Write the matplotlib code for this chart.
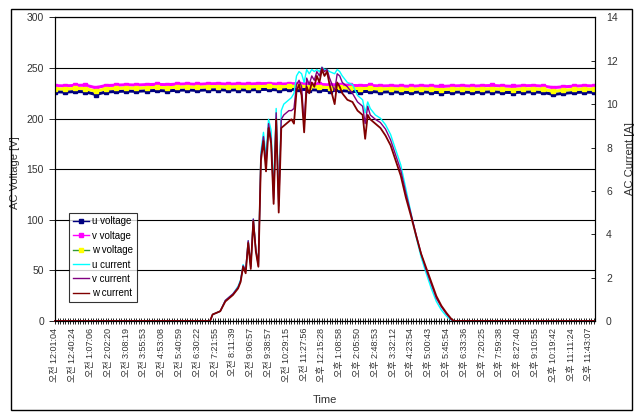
import matplotlib
matplotlib.use('Agg')
import matplotlib.pyplot as plt
from matplotlib.lines import Line2D
from matplotlib.patches import Rectangle
from matplotlib.ticker import MultipleLocator

plt.rcParams['font.family'] = ['Liberation Sans', 'Noto Sans CJK KR']

# 샘플 번호 (레이블은 7 샘플마다)
n_last = 212.4
time_labels = [
    '오전 12:01:04', '오전 12:40:24', '오전 1:07:06', '오전 2:02:20', '오전 3:08:19',
    '오전 3:55:53', '오전 4:53:08', '오전 5:40:59', '오전 6:30:22', '오전 7:21:55',
    '오전 8:11:39', '오전 9:06:57', '오전 9:38:57', '오전 10:29:15', '오전 11:27:56',
    '오후 12:15:28', '오후 1:08:58', '오후 2:05:50', '오후 2:48:53', '오후 3:32:12',
    '오후 4:23:54', '오후 5:00:43', '오후 5:45:54', '오후 6:33:36', '오후 7:20:25',
    '오후 7:59:38', '오후 8:27:40', '오후 9:10:55', '오후 10:19:42', '오후 11:11:24',
    '오후 11:43:07',
]
label_idx = [7 * k for k in range(len(time_labels))]

# 전압 (V)
volt_idx = list(range(0, 213, 4))
u_volt = [226.5, 226.2, 226.8, 226.5, 223.8, 226.3, 226.8, 227.2, 227.0, 227.5,
          227.8, 227.4, 228.0, 228.3, 227.9, 228.4, 228.6, 228.1, 228.5, 228.2,
          228.7, 228.9, 228.3, 228.8, 229.0, 228.6, 228.2, 227.6, 227.9, 227.0,
          226.6, 226.9, 226.2, 226.5, 226.1, 225.8, 226.4, 226.0, 225.6, 226.1,
          226.3, 225.9, 226.2, 226.5, 226.0, 225.7, 226.2, 226.4, 225.9, 223.9,
          225.0, 225.8, 226.2, 226.0]
v_volt = [232.5, 232.3, 232.8, 233.0, 230.5, 232.6, 233.0, 233.4, 233.1, 233.6,
          233.8, 233.5, 234.0, 234.2, 233.8, 234.3, 234.5, 234.0, 234.3, 234.1,
          234.5, 234.6, 234.0, 234.4, 234.6, 234.2, 233.8, 233.3, 233.5, 232.8,
          232.5, 232.7, 232.2, 232.4, 232.1, 231.9, 232.4, 232.1, 231.8, 232.2,
          232.5, 232.1, 232.4, 232.7, 232.2, 231.9, 232.4, 232.6, 232.1, 230.6,
          231.4, 232.0, 232.5, 232.3]
w_volt = [229.5, 229.2, 229.8, 229.6, 227.0, 229.4, 229.8, 230.2, 230.0, 230.5,
          230.8, 230.4, 231.0, 231.3, 230.9, 231.4, 231.6, 231.1, 231.5, 231.2,
          231.7, 231.9, 231.3, 231.8, 232.0, 231.6, 231.2, 230.6, 230.9, 230.0,
          229.6, 229.9, 229.2, 229.5, 229.1, 228.8, 229.4, 229.0, 228.6, 229.1,
          229.3, 228.9, 229.2, 229.5, 229.0, 228.7, 229.2, 229.4, 228.9, 227.0,
          228.0, 228.8, 229.2, 229.0]

# 전류 (A)
cur_idx = [0, 61, 62, 65, 67, 70, 72, 73,
           74, 75, 76, 77, 78, 79, 80, 81, 82, 83, 84, 85, 86, 87, 88, 89, 90,
           91, 92, 93, 94, 95, 96, 97, 98, 99, 100, 101, 102, 103, 104, 105, 106,
           107, 108, 110, 111, 112, 113, 115, 117, 119, 121, 122, 123, 124,
           126, 128, 130, 132, 134, 136, 138, 140, 142, 144, 146, 148, 150, 152,
           154, 156, 157, 212]
u_cur = [0, 0, 0.3, 0.45, 0.95, 1.25, 1.6, 1.9,
         2.6, 2.3, 3.7, 2.5, 4.7, 3.3, 2.6, 7.8, 8.7, 7.6, 9.3, 8.8, 6.0, 9.8, 5.6, 9.7, 10.0,
         10.1, 10.2, 10.3, 10.5, 11.3, 11.5, 11.4, 11.0, 11.6, 11.4, 11.6, 11.5, 11.6, 11.5, 11.7, 11.6,
         11.6, 11.5, 11.4, 11.6, 11.5, 11.3, 11.0, 10.9, 10.4, 10.2, 9.6, 10.1, 9.8,
         9.5, 9.35, 9.05, 8.6, 7.9, 7.2, 6.1, 5.0, 3.9, 2.95, 2.2, 1.5, 0.9, 0.5,
         0.22, 0.03, 0, 0]
v_cur = [0, 0, 0.3, 0.45, 0.95, 1.25, 1.55, 1.85,
         2.55, 2.3, 3.7, 2.5, 4.7, 3.3, 2.55, 7.6, 8.5, 7.2, 9.1, 8.4, 5.6, 9.6, 5.3, 9.3, 9.5,
         9.6, 9.7, 9.7, 9.8, 10.9, 11.1, 10.8, 9.0, 11.2, 10.9, 11.3, 11.1, 11.5, 11.3, 11.7, 11.5,
         11.6, 11.2, 10.6, 11.4, 11.3, 11.0, 10.8, 10.5, 10.1, 9.9, 9.1, 9.9, 9.5,
         9.3, 9.15, 8.85, 8.35, 7.65, 6.95, 5.9, 4.95, 4.0, 3.1, 2.35, 1.7, 1.05, 0.65,
         0.32, 0.05, 0, 0]
w_cur = [0, 0, 0.3, 0.45, 0.9, 1.2, 1.5, 1.8,
         2.5, 2.2, 3.6, 2.4, 4.6, 3.2, 2.5, 7.4, 8.3, 6.9, 8.9, 8.2, 5.4, 9.3, 5.0, 8.9, 9.0,
         9.1, 9.2, 9.3, 9.1, 10.6, 10.9, 10.4, 8.7, 10.8, 10.5, 11.0, 10.8, 11.3, 11.0, 11.6, 11.3,
         11.5, 10.9, 10.0, 11.0, 10.8, 10.5, 10.2, 10.1, 9.7, 9.5, 8.4, 9.5, 9.3,
         9.1, 8.9, 8.55, 8.1, 7.4, 6.7, 5.7, 4.85, 3.95, 3.1, 2.45, 1.8, 1.15, 0.7,
         0.37, 0.08, 0, 0]

fig = plt.figure(figsize=(6.35, 4.12), dpi=100)
ax1 = fig.add_axes([0.0866, 0.2209, 0.8504, 0.7369])
ax2 = ax1.twinx()

# 전압: 왼쪽 축
ax1.plot(volt_idx, u_volt, color='#000080', lw=2.2, marker='s', ms=2.2)
ax1.plot(volt_idx, v_volt, color='#FF00FF', lw=2.2, marker='s', ms=2.2)
ax1.plot(volt_idx, w_volt, color='#FFFF00', lw=2.2, marker='s', ms=2.2)

# 전류: 오른쪽 축
ax2.plot(cur_idx, u_cur, color='#00FFFF', lw=1.0, clip_on=False)
ax2.plot(cur_idx, v_cur, color='#800080', lw=1.0, clip_on=False)
ax2.plot(cur_idx, w_cur, color='#800000', lw=1.3, clip_on=False)

ax1.set_xlim(0, n_last)
ax1.set_ylim(0, 300)
ax2.set_ylim(0, 14)
ax1.set_yticks(range(0, 301, 50))
ax2.set_yticks(range(0, 15, 2))
ax1.yaxis.grid(True, color='black', lw=0.8)
ax1.set_axisbelow(True)

ax1.set_xticks(label_idx)
ax1.set_xticklabels(time_labels, rotation=90, fontsize=6.5, va='top', ha='center',
                    color='#333333')
ax1.xaxis.set_minor_locator(MultipleLocator(1))
ax1.tick_params(axis='x', which='both', direction='inout', length=4, width=0.6, pad=3)
ax1.tick_params(axis='y', direction='out', length=4, width=0.6, labelsize=7.5, pad=4,
                labelcolor='#333333')
ax2.tick_params(axis='y', direction='in', length=3, width=0.6, labelsize=7.5, pad=8,
                labelcolor='#333333')

for ax in (ax1, ax2):
    for s in ax.spines.values():
        s.set_linewidth(0.8)
        s.set_color('black')

ax1.set_ylabel('AC Voltage [V]', fontsize=8, color='#333333')
ax1.yaxis.set_label_coords(-0.065, 0.49)
ax2.set_ylabel('AC Current [A]', fontsize=8, rotation=90, color='#333333')
ax2.yaxis.set_label_coords(1.056, 0.535)
ax1.set_xlabel('Time', fontsize=8, color='#333333')
ax1.xaxis.set_label_coords(0.5, -0.245)

handles = [
    Line2D([], [], color='#000080', lw=1, marker='s', ms=2.5),
    Line2D([], [], color='#FF00FF', lw=1, marker='s', ms=2.5),
    Line2D([], [], color='#339933', lw=1, marker='s', ms=2.5, mfc='#FFFF00', mec='#FFFF00'),
    Line2D([], [], color='#00FFFF', lw=1),
    Line2D([], [], color='#800080', lw=1),
    Line2D([], [], color='#800000', lw=1),
]
names = ['u voltage', 'v voltage', 'w voltage', 'u current', 'v current', 'w current']
leg = ax2.legend(handles, names, loc='lower left', bbox_to_anchor=(0.026, 0.062),
                 fontsize=7, frameon=True, fancybox=False, handlelength=1.7,
                 labelspacing=0.45, borderpad=0.4, handletextpad=0.3, borderaxespad=0)
leg.get_frame().set_edgecolor('black')
leg.get_frame().set_linewidth(0.8)

fig.patches.append(Rectangle((0.0173, 0.005), 0.978, 0.973, transform=fig.transFigure,
                             fill=False, edgecolor='black', lw=1))

fig.savefig('out.png', dpi=100)
